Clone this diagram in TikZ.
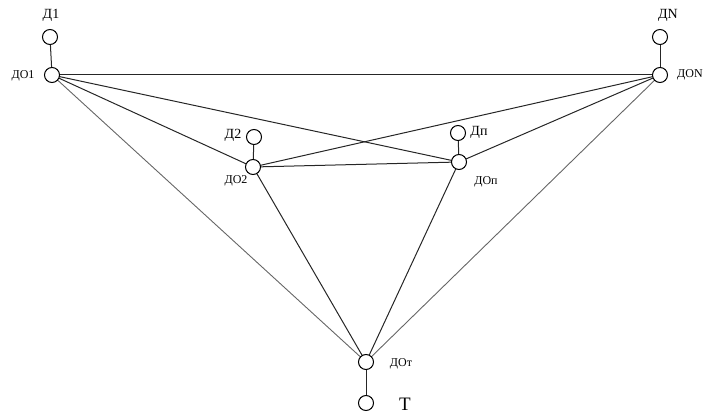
\documentclass[tikz,border=0pt]{standalone}
\usepackage{fontspec}
\setmainfont{Liberation Serif}
\begin{document}
\begin{tikzpicture}[x=1pt,y=-1pt,
  vtx/.style={circle,draw,fill=white,inner sep=0pt,minimum size=15pt,line width=1pt},
  lbl/.style={inner sep=0pt,font=\fontsize{12}{14}\selectfont},
  lblbig/.style={inner sep=0pt,font=\fontsize{14}{16}\selectfont},
  edge/.style={line width=1pt,draw=black!85},
  edgeg/.style={line width=0.9pt,draw=black!60}]
\useasboundingbox (0,0) rectangle (707,414);
\coordinate (o1) at (52,75);
\coordinate (oN) at (660,75);
\coordinate (o2) at (253,167);
\coordinate (on) at (459,162);
\coordinate (ot) at (366,362);
\draw[edge] (o1) -- (oN);
\draw[edge] (o1) -- (o2);
\draw[edge] (o1) -- (on);
\draw[edgeg] (o1) -- (ot);
\draw[edge] (oN) -- (o2);
\draw[edge] (oN) -- (on);
\draw[edgeg] (oN) -- (ot);
\draw[edge] (o2) -- (on);
\draw[edge] (o2) -- (ot);
\draw[edge] (on) -- (ot);
\node[vtx] (DO1) at (o1) {};
\node[vtx] (DON) at (oN) {};
\node[vtx] (DO2) at (o2) {};
\node[vtx] (DOn) at (on) {};
\node[vtx] (DOt) at (ot) {};
\node[vtx] (D1) at (50,37) {};
\node[vtx] (DN) at (660,37) {};
\node[vtx] (D2) at (254,137) {};
\node[vtx] (Dn) at (458,133) {};
\node[vtx] (T) at (366,403) {};
\draw[edge] (D1) -- (DO1);
\draw[edge] (DN) -- (DON);
\draw[edge] (D2) -- (DO2);
\draw[edge] (Dn) -- (DOn);
\draw[edge] (DOt) -- (T);
\node[lblbig] (l1) at (51,15) {Д1};
\node[lbl] (lo1) at (23,76) {ДО1};
\node[lblbig] (lN) at (668,15) {ДN};
\node[lbl,anchor=west] (loN) at (677,75) {ДОN};
\node[lblbig] (l2) at (233,135) {Д2};
\node[lbl] (lo2) at (236,181) {ДО2};
\node[lblbig] (ln) at (479,132) {Дп};
\node[lbl] (lon) at (486,182) {ДОп};
\node[lbl] (lot) at (401,364) {ДОт};
\node[inner sep=0pt,font=\fontsize{19}{21}\selectfont] (lT) at (405,404) {Т};
\end{tikzpicture}
\end{document}
